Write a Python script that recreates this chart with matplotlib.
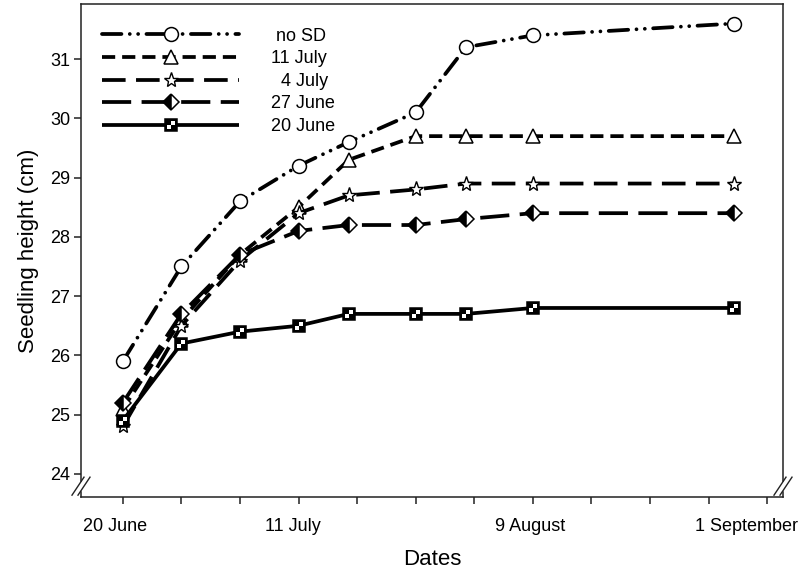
import matplotlib
matplotlib.use("Agg")
import matplotlib.pyplot as plt
from matplotlib.path import Path
from matplotlib.lines import Line2D
from matplotlib.legend_handler import HandlerTuple

plt.rcParams['font.family'] = ['Liberation Sans', 'DejaVu Sans']
plt.rcParams['lines.scale_dashes'] = False

# ---- data ----
days = [0, 7, 14, 21, 27, 35, 41, 49, 73]
no_sd = [25.9, 27.5, 28.6, 29.2, 29.6, 30.1, 31.2, 31.4, 31.6]
jul11 = [25.1, 26.6, 27.7, 28.5, 29.3, 29.7, 29.7, 29.7, 29.7]
jul4 = [24.8, 26.5, 27.6, 28.4, 28.7, 28.8, 28.9, 28.9, 28.9]
jun27 = [25.2, 26.7, 27.7, 28.1, 28.2, 28.2, 28.3, 28.4, 28.4]
jun20 = [24.9, 26.2, 26.4, 26.5, 26.7, 26.7, 26.7, 26.8, 26.8]

series_labels = [" no SD", "11 July", "  4 July", "27 June", "20 June"]
xtick_days = [-0.9, 20.3, 48.7, 74.5]
xtick_labels = ["20 June", "11 July", "9 August", "1 September"]
yticks = [24, 25, 26, 27, 28, 29, 30, 31]

fig = plt.figure(figsize=(8.01, 5.76), dpi=100)
ax = fig.add_axes([81/801, 1-497/576, 702/801, 493/576])

lw = 2.7
# checker square overlay path (white quadrants: top-right and bottom-left)
checker = Path([(0, 0), (1, 0), (1, 1), (0, 1), (0, 0),
                (-1, -1), (0, -1), (0, 0), (-1, 0), (-1, -1)],
               [Path.MOVETO, Path.LINETO, Path.LINETO, Path.LINETO, Path.CLOSEPOLY,
                Path.MOVETO, Path.LINETO, Path.LINETO, Path.LINETO, Path.CLOSEPOLY])

st_nosd = dict(color='black', lw=lw, dashes=[14, 6, 0.01, 6, 0.01, 6], dash_capstyle='round',
               marker='o', ms=10, mfc='white', mec='black', mew=1.1)
st_j11 = dict(color='black', lw=lw, dashes=[9.5, 5],
              marker='^', ms=10, mfc='white', mec='black', mew=1.1)
st_j4 = dict(color='black', lw=lw, dashes=[17, 7.5],
             marker='*', ms=11, mfc='white', mec='black', mew=1.0)
st_j27 = dict(color='black', lw=lw, dashes=[21, 7.5],
              marker='D', ms=8.5, markerfacecolor='black', markerfacecoloralt='white',
              fillstyle='left', mec='black', mew=1.1)
st_j20 = dict(color='black', lw=lw, solid_capstyle='butt',
              marker='s', ms=8.5, mfc='black', mec='black', mew=1.1)
st_chk = dict(ls='none', marker=checker, ms=6, mfc='white', mew=0)

ax.plot(days, no_sd, **st_nosd)
ax.plot(days, jul11, **st_j11)
ax.plot(days, jul4, **st_j4)
ax.plot(days, jun27, **st_j27)
ax.plot(days, jun20, **st_j20)
ax.plot(days, jun20, **st_chk)

# legend
handles = [
    Line2D([], [], **st_nosd),
    Line2D([], [], **st_j11),
    Line2D([], [], **st_j4),
    Line2D([], [], **st_j27),
    (Line2D([], [], **st_j20), Line2D([], [], **st_chk)),
]
leg = ax.legend(handles, series_labels, loc='upper left', bbox_to_anchor=(0.03, 0.952),
                frameon=False, fontsize=13, handlelength=7.6, handletextpad=1.75,
                labelspacing=0.31, borderpad=0, borderaxespad=0, numpoints=1,
                handler_map={tuple: HandlerTuple(ndivide=1, pad=0)})

# axes
ax.set_xlim(-5, 78.9)
ax.set_ylim(23.61, 31.93)
ax.set_xticks(range(0, 78, 7))
ax.set_xticklabels([])
ax.set_yticks(yticks)
ax.set_yticklabels([str(v) for v in yticks], fontsize=13)
ax.tick_params(axis='both', direction='out', length=4.8, width=1.1, color='#222222')
ax.tick_params(axis='y', pad=2.8)
for lab_x, lab in zip(xtick_days, xtick_labels):
    ax.annotate(lab, xy=(lab_x, 0), xycoords=('data', 'axes fraction'),
                xytext=(0, -15), textcoords='offset points', ha='center', va='top', fontsize=13)
for s in ax.spines.values():
    s.set_linewidth(1.1)
    s.set_color('#222222')

ax.set_ylabel("Seedling height (cm)", fontsize=16, labelpad=8)
ax.set_xlabel("Dates", fontsize=16, labelpad=29)

# axis break marks on the left and right spines near the bottom
def brk(xc, yc):
    px = 81 + xc * 702
    py = 79 + yc * 493
    fig.add_artist(Line2D([px, px], [py - 3, py + 3], transform=None, color='white', lw=2.5))
    for d in (-3, 3):
        fig.add_artist(Line2D([px + d - 6, px + d + 6], [py - 9, py + 9],
                              transform=None, color='#222222', lw=1.0))

brk(0.0, 0.022)
brk(1.0, 0.022)

fig.savefig("out.png", dpi=100)
